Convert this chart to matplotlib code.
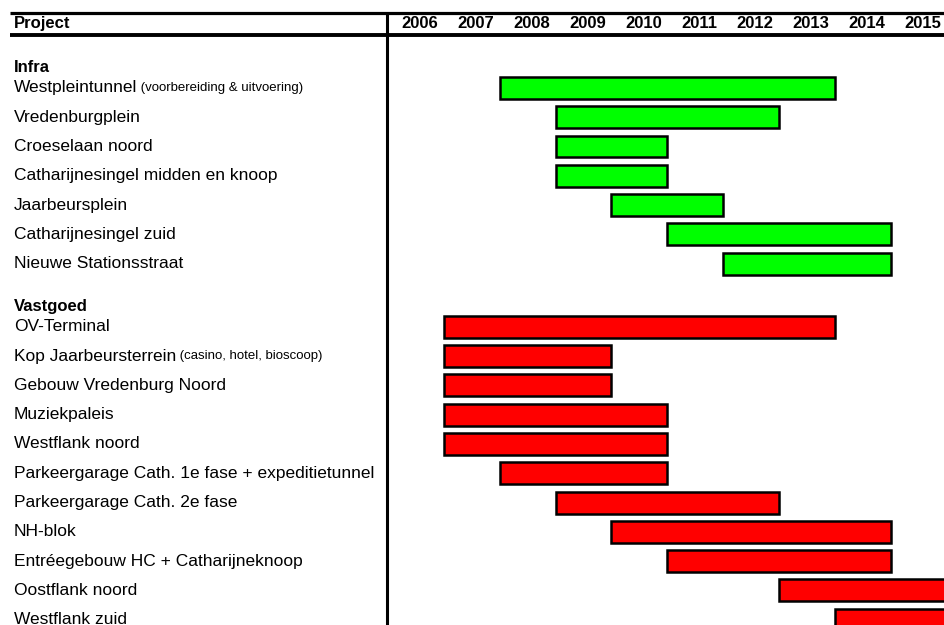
import matplotlib
matplotlib.use("Agg")
import matplotlib.pyplot as plt

plt.rcParams['font.family'] = ['Liberation Sans', 'DejaVu Sans']

years = list(range(2006, 2016))

# Infra projects: label, small note, start year, end year
infra_labels = ["Westpleintunnel", "Vredenburgplein", "Croeselaan noord",
                "Catharijnesingel midden en knoop", "Jaarbeursplein",
                "Catharijnesingel zuid", "Nieuwe Stationsstraat"]
infra_notes = ["(voorbereiding & uitvoering)", "", "", "", "", "", ""]
infra_start = [2008, 2009, 2009, 2009, 2010, 2011, 2012]
infra_end = [2014, 2013, 2011, 2011, 2012, 2015, 2015]

# Vastgoed projects
vast_labels = ["OV-Terminal", "Kop Jaarbeursterrein", "Gebouw Vredenburg Noord",
               "Muziekpaleis", "Westflank noord",
               "Parkeergarage Cath. 1e fase + expeditietunnel",
               "Parkeergarage Cath. 2e fase", "NH-blok",
               "Entréegebouw HC + Catharijneknoop", "Oostflank noord",
               "Westflank zuid"]
vast_notes = ["", "(casino, hotel, bioscoop)", "", "", "", "", "", "", "", "", ""]
vast_start = [2007, 2007, 2007, 2007, 2007, 2008, 2009, 2010, 2011, 2013, 2014]
vast_end = [2014, 2010, 2010, 2011, 2011, 2011, 2013, 2015, 2015, 2017, 2017]

fig = plt.figure(figsize=(9.44, 6.25), dpi=100)
ax = fig.add_axes([0, 0, 1, 1])
ax.set_xlim(1999.06, 2015.95)
ax.set_ylim(19.33, -2.0)
ax.axis('off')

label_x = 14 / 944
bar_h = 0.75
fs = 12.5


def draw_group(title, labels, notes, starts, ends, first_row, color):
    ax.text(label_x, first_row - 0.68, title, transform=ax.get_yaxis_transform(),
            fontsize=12, fontweight='bold', va='center', ha='left')
    rows = [first_row + i for i in range(len(labels))]
    ax.barh(rows, [e - s for s, e in zip(starts, ends)], left=starts,
            height=bar_h, color=color, edgecolor='black', linewidth=1.8,
            clip_on=True, zorder=3)
    for r, lab, note in zip(rows, labels, notes):
        t = ax.text(label_x, r, lab, transform=ax.get_yaxis_transform(),
                    fontsize=fs, va='center', ha='left')
        if note:
            ax.annotate(" " + note, xy=(1, 0.1), xycoords=t, fontsize=9.5,
                        va='bottom', ha='left')


draw_group("Infra", infra_labels, infra_notes, infra_start, infra_end, 1, '#00ff00')
draw_group("Vastgoed", vast_labels, vast_notes, vast_start, vast_end,
           len(infra_labels) + 2.15, '#ff0000')

# header
ax.plot([1999.24, 2016.5], [-1.56, -1.56], color='black', lw=2.3, clip_on=False,
        solid_capstyle='butt')
ax.plot([1999.24, 2016.5], [-0.82, -0.82], color='black', lw=2.8, clip_on=False,
        solid_capstyle='butt')
ax.plot([2005.985, 2005.985], [-1.58, 20], color='black', lw=2.2, clip_on=False,
        solid_capstyle='butt')
ax.text(label_x, -1.19, "Project", transform=ax.get_yaxis_transform(),
        fontsize=12, fontweight='bold', va='center', ha='left')
for y in years:
    ax.text(y + 0.57, -1.19, str(y), fontsize=12, fontweight='bold',
            va='center', ha='center')

fig.savefig("out.png", dpi=100)
